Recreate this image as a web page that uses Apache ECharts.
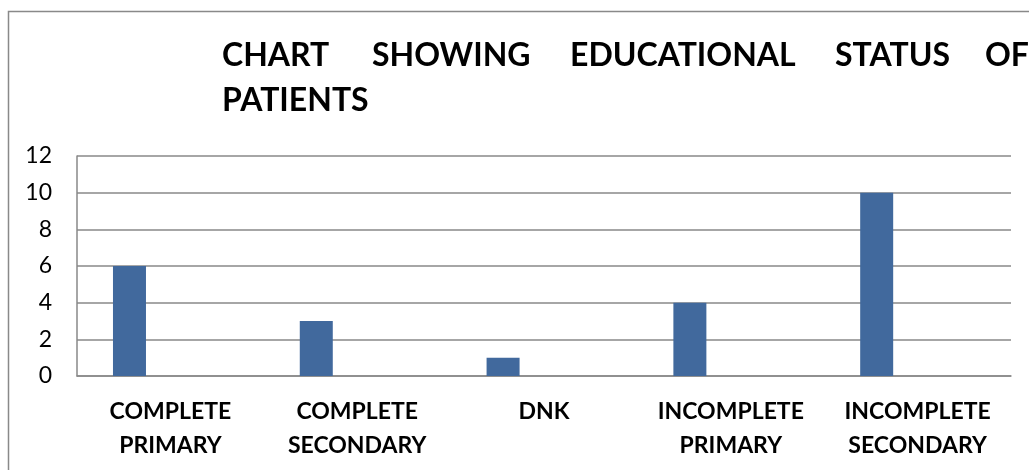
<!DOCTYPE html>
<html><head><meta charset="utf-8">
<script src="https://cdn.jsdelivr.net/npm/echarts@6/dist/echarts.min.js"></script>
<style>html,body{margin:0;padding:0;background:#fff}#c{width:1029px;height:470px}</style>
</head><body><div id="c"></div>
<script>
const categories = ['COMPLETE\nPRIMARY', 'COMPLETE\nSECONDARY', 'DNK', 'INCOMPLETE\nPRIMARY', 'INCOMPLETE\nSECONDARY'];
const values = [6, 3, 1, 4, 10];
const emptySeries = [null, null, null, null, null];
const titleWords = ['CHART', 'SHOWING', 'EDUCATIONAL', 'STATUS', 'OF'];
const titleWordX = [222, 372, 570, 835, 985];
const titleLine2 = 'PATIENTS';

const FONT = 'Lato';
const titles = titleWords.map((w, i) => ({
  text: w, left: titleWordX[i], top: 40, padding: 0,
  textStyle: {fontFamily: FONT, fontWeight: 'bold', fontSize: 32, color: '#000'}
}));
titles.push({text: titleLine2, left: 222, top: 85, padding: 0,
  textStyle: {fontFamily: FONT, fontWeight: 'bold', fontSize: 32, color: '#000'}});

const chart = echarts.init(document.getElementById('c'), null, {renderer: 'canvas'});
chart.setOption({
  animation: false,
  title: titles,
  graphic: [{type: 'rect', shape: {x: 8.5, y: 11.5, width: 1200, height: 700},
    style: {fill: 'none', stroke: '#898989', lineWidth: 1.5}, silent: true}],
  grid: {left: 77, right: 18, top: 156, bottom: 94},
  xAxis: {
    type: 'category', data: categories,
    axisLine: {show: true, lineStyle: {color: '#898989', width: 1.5}},
    axisTick: {show: false},
    axisLabel: {interval: 0, margin: 19, fontFamily: FONT, fontWeight: 'bold', fontSize: 23, color: '#000', lineHeight: 34}
  },
  yAxis: {
    type: 'value', min: 0, max: 12, interval: 2,
    axisLine: {show: true, lineStyle: {color: '#898989', width: 1.5}},
    axisTick: {show: false},
    splitLine: {lineStyle: {color: '#898989', width: 1.5}},
    axisLabel: {margin: 25, fontFamily: FONT, fontSize: 23, color: '#000'}
  },
  series: [
    {type: 'bar', name: 'Patients', data: values, barWidth: 33, barGap: '148%', itemStyle: {color: '#41699D'}},
    {type: 'bar', name: 'empty', data: emptySeries, barWidth: 33, itemStyle: {color: '#9E413E'}}
  ]
});
</script></body></html>
